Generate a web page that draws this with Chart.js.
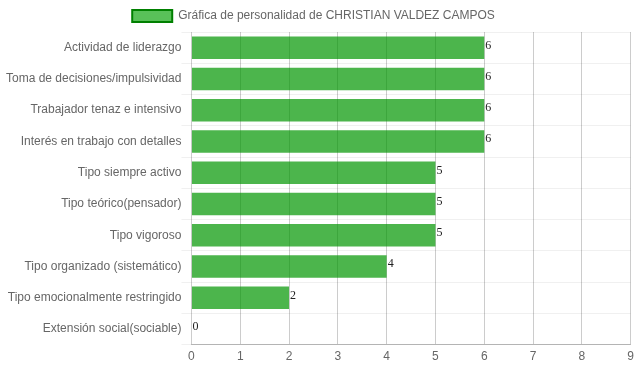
<!DOCTYPE html>
<html>
<head>
<meta charset="utf-8">
<script src="https://cdn.jsdelivr.net/npm/chart.js@4/dist/chart.umd.min.js"></script>
<style>
  html, body { margin: 0; padding: 0; background: #fff; }
  #wrap { width: 639px; height: 372px; }
</style>
</head>
<body>
<div id="wrap"><canvas id="chart"></canvas></div>
<script>
const labels = [
  'Actividad de liderazgo',
  'Toma de decisiones/impulsividad',
  'Trabajador tenaz e intensivo',
  'Interés en trabajo con detalles',
  'Tipo siempre activo',
  'Tipo teórico(pensador)',
  'Tipo vigoroso',
  'Tipo organizado (sistemático)',
  'Tipo emocionalmente restringido',
  'Extensión social(sociable)'
];
const scores = [6, 6, 6, 6, 5, 5, 5, 4, 2, 0];
const seriesName = 'Gráfica de personalidad de CHRISTIAN VALDEZ CAMPOS';
const xTicks = [0, 1, 2, 3, 4, 5, 6, 7, 8, 9];

Chart.defaults.font.family = "'Liberation Sans', Arial, sans-serif";
Chart.defaults.font.size = 12;
Chart.defaults.color = '#666';

// draw the number at the end of each bar
const valueLabels = {
  id: 'valueLabels',
  afterLayout(chart) {
    // legend sits a bit left of centre in the original
    chart.legend.left -= 10;
    chart.legend.right -= 10;
  },
  afterDatasetsDraw(chart) {
    const ctx = chart.ctx;
    ctx.save();
    ctx.font = "12px 'Liberation Serif', serif";
    ctx.fillStyle = '#222';
    ctx.textAlign = 'left';
    ctx.textBaseline = 'alphabetic';
    chart.getDatasetMeta(0).data.forEach((bar, i) => {
      ctx.fillText(scores[i], bar.x + 1, bar.y + 1);
    });
    ctx.restore();
  }
};

new Chart(document.getElementById('chart'), {
  type: 'bar',
  data: {
    labels: labels,
    datasets: [{
      label: seriesName,
      data: scores,
      backgroundColor: 'rgba(0,150,0,0.7)',
      borderColor: 'rgb(0,128,0)',
      borderWidth: 0,
      categoryPercentage: 0.8,
      barPercentage: 0.9
    }]
  },
  options: {
    indexAxis: 'y',
    responsive: true,
    maintainAspectRatio: false,
    animation: false,
    layout: { padding: { left: 6, right: -2, bottom: 3 } },
    scales: {
      x: {
        min: 0,
        max: 9,
        afterBuildTicks: (axis) => { axis.ticks = xTicks.map(v => ({ value: v })); },
        grid: { color: 'rgba(0,0,0,0.2)', drawTicks: false },
        border: { color: 'rgba(0,0,0,0.25)' },
        ticks: { padding: 5, maxRotation: 0 }
      },
      y: {
        grid: { color: 'rgba(0,0,0,0.06)', tickLength: 10 },
        border: { display: false },
        ticks: { padding: 0 }
      }
    },
    plugins: {
      tooltip: { enabled: false },
      legend: {
        labels: {
          boxWidth: 40,
          boxHeight: 12,
          generateLabels: (chart) => [{
            text: seriesName,
            fillStyle: 'rgba(0,160,0,0.65)',
            strokeStyle: 'rgb(0,128,0)',
            lineWidth: 2,
            fontColor: '#666',
            datasetIndex: 0
          }]
        }
      }
    }
  },
  plugins: [valueLabels]
});
</script>
</body>
</html>
